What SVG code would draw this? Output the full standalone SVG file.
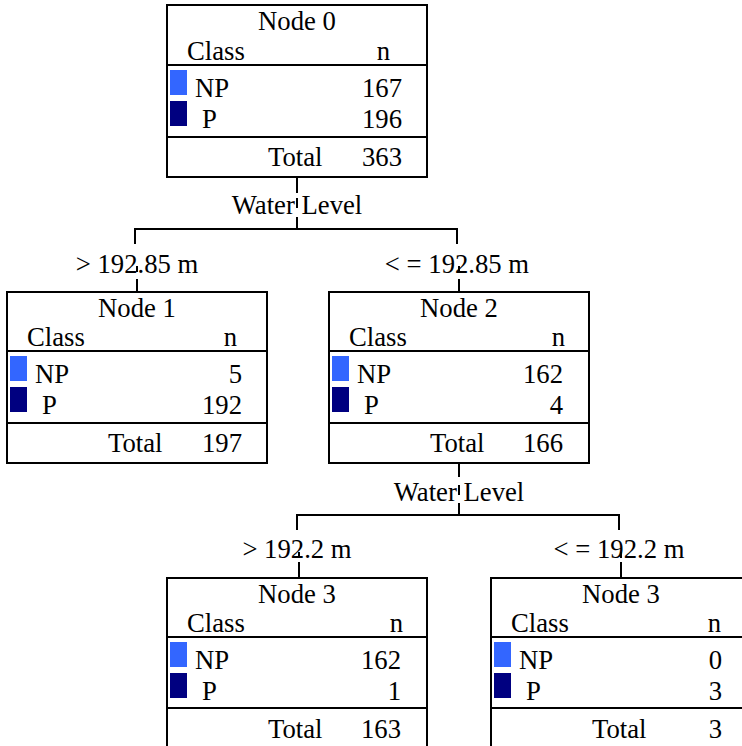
<svg xmlns="http://www.w3.org/2000/svg" width="742" height="746" viewBox="0 0 742 746">
<style>
.t{font-family:"Liberation Serif","Times New Roman",serif;font-size:26.7px;fill:#000}
.m{text-anchor:middle}
.e{text-anchor:end}
.box{fill:#fff;stroke:#000;stroke-width:2}
.ln{stroke:#000;stroke-width:2;fill:none}
.np{fill:#3366ff}
.p{fill:#000080}
</style>
<rect width="742" height="746" fill="#fff"/>
<g id="connectors">
<path class="ln" d="M297,177V193M297,198V208M297,217V229"/>
<path class="ln" d="M135,244V229H457V244"/>
<path class="ln" d="M137,266V272M137,279V292"/>
<path class="ln" d="M459,266V272M459,279V292"/>
<path class="ln" d="M459,463V477M459,485V495M459,503V515"/>
<path class="ln" d="M297,530V515H619V530"/>
<path class="ln" d="M299,552V558M299,562V578"/>
<path class="ln" d="M621,552V558M621,562V578"/>
</g>
<g id="labels">
<text class="t m" x="297" y="214">Water Level</text>
<text class="t m" x="137" y="273">&gt; 192.85 m</text>
<text class="t m" x="457" y="273">&lt; = 192.85 m</text>
<text class="t m" x="459" y="501">Water Level</text>
<text class="t m" x="297" y="558">&gt; 192.2 m</text>
<text class="t m" x="619" y="558">&lt; = 192.2 m</text>
</g>
<g id="node0" transform="translate(167,5)">
<rect class="box" x="0" y="0" width="260" height="172"/>
<path class="ln" d="M0,60H260M0,132H260"/>
<text class="t m" x="130" y="25">Node 0</text>
<text class="t" x="20" y="55">Class</text>
<text class="t e" x="223" y="55">n</text>
<rect class="np" x="3" y="65" width="17" height="25"/>
<rect class="p" x="3" y="96" width="17" height="25"/>
<text class="t" x="28" y="92">NP</text>
<text class="t" x="35" y="123">P</text>
<text class="t e" x="235" y="92">167</text>
<text class="t e" x="235" y="123">196</text>
<text class="t" x="101" y="161">Total</text>
<text class="t e" x="235" y="161">363</text>
</g>
<g id="node1" transform="translate(7,292)">
<rect class="box" x="0" y="0" width="260" height="171"/>
<path class="ln" d="M0,59H260M0,131H260"/>
<text class="t m" x="130" y="25">Node 1</text>
<text class="t" x="20" y="54">Class</text>
<text class="t e" x="230" y="54">n</text>
<rect class="np" x="3" y="64" width="17" height="25"/>
<rect class="p" x="3" y="95" width="17" height="25"/>
<text class="t" x="28" y="91">NP</text>
<text class="t" x="35" y="122">P</text>
<text class="t e" x="235" y="91">5</text>
<text class="t e" x="235" y="122">192</text>
<text class="t" x="101" y="160">Total</text>
<text class="t e" x="235" y="160">197</text>
</g>
<g id="node2" transform="translate(329,292)">
<rect class="box" x="0" y="0" width="260" height="171"/>
<path class="ln" d="M0,59H260M0,131H260"/>
<text class="t m" x="130" y="25">Node 2</text>
<text class="t" x="20" y="54">Class</text>
<text class="t e" x="236" y="54">n</text>
<rect class="np" x="3" y="64" width="17" height="25"/>
<rect class="p" x="3" y="95" width="17" height="25"/>
<text class="t" x="28" y="91">NP</text>
<text class="t" x="35" y="122">P</text>
<text class="t e" x="234" y="91">162</text>
<text class="t e" x="234" y="122">4</text>
<text class="t" x="101" y="160">Total</text>
<text class="t e" x="234" y="160">166</text>
</g>
<g id="node3a" transform="translate(167,578)">
<rect class="box" x="0" y="0" width="260" height="172"/>
<path class="ln" d="M0,59H260M0,130H260"/>
<text class="t m" x="130" y="25">Node 3</text>
<text class="t" x="20" y="54">Class</text>
<text class="t e" x="236" y="54">n</text>
<rect class="np" x="3" y="64" width="17" height="25"/>
<rect class="p" x="3" y="95" width="17" height="25"/>
<text class="t" x="28" y="91">NP</text>
<text class="t" x="35" y="122">P</text>
<text class="t e" x="234" y="91">162</text>
<text class="t e" x="234" y="122">1</text>
<text class="t" x="101" y="160">Total</text>
<text class="t e" x="234" y="160">163</text>
</g>
<g id="node3b" transform="translate(491,578)">
<rect class="box" x="0" y="0" width="260" height="172"/>
<path class="ln" d="M0,59H260M0,130H260"/>
<text class="t m" x="130" y="25">Node 3</text>
<text class="t" x="20" y="54">Class</text>
<text class="t e" x="230" y="54">n</text>
<rect class="np" x="3" y="64" width="17" height="25"/>
<rect class="p" x="3" y="95" width="17" height="25"/>
<text class="t" x="28" y="91">NP</text>
<text class="t" x="35" y="122">P</text>
<text class="t e" x="231" y="91">0</text>
<text class="t e" x="231" y="122">3</text>
<text class="t" x="101" y="160">Total</text>
<text class="t e" x="231" y="160">3</text>
</g>
</svg>
